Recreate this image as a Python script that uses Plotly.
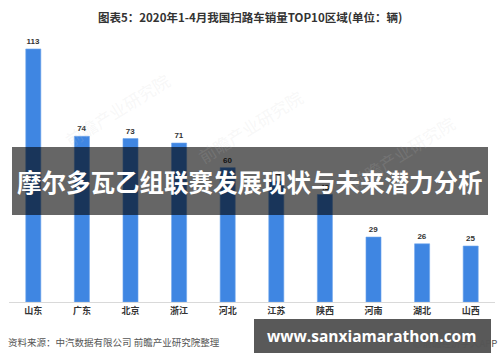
import plotly.graph_objects as go

categories = ["山东", "广东", "北京", "浙江", "河北", "江苏", "陕西", "河南", "湖北", "山西"]
sales = [113, 74, 73, 71, 60, 54, 48, 29, 26, 25]

title_text = "图表5：2020年1-4月我国扫路车销量TOP10区域(单位：辆)"
banner_text = "摩尔多瓦乙组联赛发展现状与未来潜力分析"
source_text = "资料来源：中汽数据有限公司 前瞻产业研究院整理"
site_text = "www.sanxiamarathon.com"
app_text = "◎前瞻经济学人APP"
watermark_text = "前瞻产业研究院"

W, H = 500, 362
L, R, T, B = 9, 5, 40, 60
PW = W - L - R
PH = H - T - B


def px(x):
    return (x - L) / PW


def py(y):
    return (H - B - y) / PH


CJK = "Noto Sans CJK SC, sans-serif"

fig = go.Figure()
fig.add_trace(go.Bar(
    x=categories,
    y=sales,
    marker=dict(color="#3f86e2", line=dict(color="#6fa6ec", width=0.6)),
    text=[f"<b>{v}</b>" for v in sales],
    textposition="outside",
    textfont=dict(size=8, color="#333333", family="Liberation Sans, Arial"),
    cliponaxis=False,
    hoverinfo="skip",
))

annotations = []
# faint watermarks
for (x, y) in [(58, 65), (250, 82), (462, 108)]:
    annotations.append(dict(
        x=px(x), y=py(y), xref="paper", yref="paper", text=watermark_text,
        showarrow=False, textangle=-32,
        font=dict(size=17, color="rgba(200,200,200,0.15)", family=CJK),
    ))

annotations += [
    dict(x=px(250), y=py(17), xref="paper", yref="paper",
         text=f"<b>{title_text}</b>", showarrow=False,
         font=dict(size=11.5, color="#333333", family=CJK),
         xanchor="center", yanchor="middle"),
    dict(x=px(6), y=py(342), xref="paper", yref="paper",
         text=source_text, showarrow=False,
         font=dict(size=9.5, color="#555555", family=CJK),
         xanchor="left", yanchor="middle"),
    dict(x=px(250), y=py(181), xref="paper", yref="paper",
         text=f"<b>{banner_text}</b>", showarrow=False,
         font=dict(size=24.5, color="white", family=CJK),
         xanchor="center", yanchor="middle"),
    dict(x=px(499), y=py(343), xref="paper", yref="paper",
         text=app_text, showarrow=False,
         font=dict(size=9.5, color="#555555", family=CJK),
         xanchor="right", yanchor="middle"),
    dict(x=px(371.5), y=py(336), xref="paper", yref="paper",
         text=f"<b>{site_text}</b>", showarrow=False,
         font=dict(size=15.5, color="white", family="Open Sans, sans-serif"),
         xanchor="center", yanchor="middle"),
]

shapes = [
    dict(type="rect", xref="paper", yref="paper",
         x0=px(12), x1=px(488), y0=py(215), y1=py(147),
         fillcolor="rgba(0,0,0,0.6)", line=dict(width=0), layer="above"),
    dict(type="rect", xref="paper", yref="paper",
         x0=px(254), x1=px(491), y0=py(353), y1=py(319),
         fillcolor="rgba(0,0,0,0.65)", line=dict(width=0), layer="above"),
]

fig.update_layout(
    width=W, height=H,
    margin=dict(l=L, r=R, t=T, b=B, pad=0),
    paper_bgcolor="white", plot_bgcolor="white",
    showlegend=False,
    bargap=0.69,
    xaxis=dict(
        type="category",
        tickmode="array", tickvals=categories,
        ticktext=[f"<b>{c}</b>" for c in categories],
        tickfont=dict(size=9, color="#333333", family=CJK),
        showline=True, linecolor="#d9d9d9", linewidth=1,
        ticks="", showgrid=False, zeroline=False,
    ),
    yaxis=dict(range=[0, 117], visible=False, showgrid=False, zeroline=False),
    annotations=annotations,
    shapes=shapes,
)

fig.write_html(
    "out.html",
    config={"displayModeBar": False},
    post_script="document.body.style.margin='0px';document.body.style.overflow='hidden';",
)
